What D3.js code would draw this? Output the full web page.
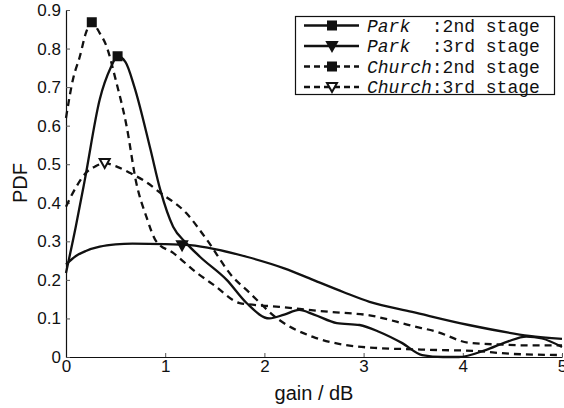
<!DOCTYPE html>
<html>
<head>
<meta charset="utf-8">
<script src="https://cdn.jsdelivr.net/npm/d3@7"></script>
<style>
  body { margin: 0; background: #fff; }
  text { fill: #111; }
</style>
</head>
<body>
<div id="chart"></div>
<script>
// Park, 2nd stage
var park2X = [0, 0.1, 0.19, 0.34, 0.45, 0.52, 0.6, 0.69, 0.85, 0.95, 1.08, 1.21, 1.35, 1.62, 1.82, 2.05, 2.2, 2.35, 2.5, 2.73, 2.96, 3.16, 3.39, 3.59, 3.8, 3.96, 4.23, 4.45, 4.64, 4.8, 5.0];
var park2Y = [0.218, 0.34, 0.46, 0.668, 0.75, 0.78, 0.765, 0.70, 0.54, 0.434, 0.338, 0.296, 0.26, 0.20, 0.14, 0.10, 0.11, 0.122, 0.11, 0.088, 0.083, 0.065, 0.036, 0.005, 0.0, 0.0, 0.018, 0.04, 0.053, 0.048, 0.026];
// Park, 3rd stage
var park3X = [0, 0.1, 0.2, 0.34, 0.5, 0.67, 1.0, 1.25, 1.5, 1.82, 2.2, 2.49, 2.8, 3.06, 3.49, 4.06, 4.67, 5.0];
var park3Y = [0.24, 0.262, 0.275, 0.286, 0.292, 0.294, 0.293, 0.29, 0.28, 0.26, 0.23, 0.20, 0.168, 0.143, 0.117, 0.083, 0.055, 0.047];
// Church, 2nd stage
var church2X = [0, 0.07, 0.14, 0.2, 0.26, 0.34, 0.41, 0.5, 0.61, 0.71, 0.81, 0.91, 1.08, 1.32, 1.5, 1.75, 2.15, 2.66, 3.06, 3.5, 3.73, 4.06, 4.4, 4.7, 5.0];
var church2Y = [0.62, 0.72, 0.78, 0.84, 0.868, 0.84, 0.805, 0.72, 0.60, 0.45, 0.364, 0.30, 0.27, 0.218, 0.185, 0.14, 0.13, 0.117, 0.108, 0.08, 0.066, 0.037, 0.032, 0.03, 0.03];
// Church, 3rd stage
var church3X = [0, 0.1, 0.21, 0.3, 0.39, 0.5, 0.64, 0.8, 0.95, 1.21, 1.42, 1.68, 1.82, 2.15, 2.49, 2.82, 3.16, 3.5, 3.76, 4.1, 4.5, 5.0];
var church3Y = [0.39, 0.44, 0.48, 0.495, 0.503, 0.495, 0.478, 0.455, 0.426, 0.374, 0.304, 0.208, 0.174, 0.096, 0.052, 0.031, 0.023, 0.02, 0.018, 0.016, 0.008, 0.005];

// one marker per curve
var markerX = [0.52, 1.17, 0.26, 0.39];
var markerY = [0.78, 0.29, 0.868, 0.503];

var seriesNames = ["Park", "Park", "Church", "Church"];
var seriesStages = [":2nd stage", ":3rd stage", ":2nd stage", ":3rd stage"];
var xTicks = [0, 1, 2, 3, 4, 5];
var yTicks = [0, 0.1, 0.2, 0.3, 0.4, 0.5, 0.6, 0.7, 0.8, 0.9];

var width = 564, height = 408;

var svg = d3.select("#chart").append("svg")
  .attr("width", width)
  .attr("height", height);

var x = d3.scaleLinear().domain([0, 5]).range([66, 562]);
var y = d3.scaleLinear().domain([0, 0.9]).range([357, 10]);

var series = [
  { xs: park2X, ys: park2Y, dash: null, marker: "square", fill: "#111" },
  { xs: park3X, ys: park3Y, dash: null, marker: "triangle", fill: "#111" },
  { xs: church2X, ys: church2Y, dash: "7,5", marker: "square", fill: "#111" },
  { xs: church3X, ys: church3Y, dash: "7,5", marker: "triangle", fill: "#fff" }
];
series.forEach(function (s, i) {
  s.points = s.xs.map(function (v, j) { return [v, s.ys[j]]; });
  s.mx = markerX[i];
  s.my = markerY[i];
  s.name = seriesNames[i];
  s.stage = seriesStages[i];
});

// axes
var xAxis = d3.axisBottom(x).tickValues(xTicks).tickFormat(d3.format("d"))
  .tickSizeInner(-4).tickSizeOuter(0).tickPadding(3);
var yAxis = d3.axisLeft(y).tickValues(yTicks).tickFormat(function (d) { return d === 0 ? "0" : d3.format(".1f")(d); })
  .tickSizeInner(-4).tickSizeOuter(0).tickPadding(5);

var gx = svg.append("g").attr("transform", "translate(0," + y(0) + ")").call(xAxis);
var gy = svg.append("g").attr("transform", "translate(" + x(0) + ",0)").call(yAxis);
[gx, gy].forEach(function (g) {
  g.selectAll("text").style("font-family", "Liberation Sans, Arial, sans-serif").style("font-size", "17px").attr("fill", "#111");
  g.selectAll("line").attr("stroke", "#555");
  g.select(".domain").attr("stroke", "#111").attr("stroke-width", 1.2);
});

svg.append("text")
  .attr("x", 314).attr("y", 400)
  .attr("text-anchor", "middle")
  .style("font-family", "Liberation Sans, Arial, sans-serif")
  .style("font-size", "20px")
  .text("gain / dB");

svg.append("text")
  .attr("transform", "translate(27,183) rotate(-90)")
  .attr("text-anchor", "middle")
  .style("font-family", "Liberation Sans, Arial, sans-serif")
  .style("font-size", "20px")
  .text("PDF");

// curves
var line = d3.line()
  .x(function (d) { return x(d[0]); })
  .y(function (d) { return y(d[1]); })
  .curve(d3.curveMonotoneX);

svg.append("g").selectAll("path")
  .data(series)
  .join("path")
  .attr("d", function (d) { return line(d.points); })
  .attr("fill", "none")
  .attr("stroke", "#111")
  .attr("stroke-width", 2.3)
  .attr("stroke-dasharray", function (d) { return d.dash; });

function markerPath(kind) {
  if (kind === "square") return "M-4,-4H4V4H-4Z";
  return "M-5,-4L5,-4L0,5Z";
}

svg.append("g").selectAll("path")
  .data(series)
  .join("path")
  .attr("transform", function (d) { return "translate(" + x(d.mx) + "," + y(d.my) + ")"; })
  .attr("d", function (d) { return markerPath(d.marker); })
  .attr("fill", function (d) { return d.fill; })
  .attr("stroke", "#111")
  .attr("stroke-width", 2);

// legend
var legend = svg.append("g");
legend.append("rect")
  .attr("x", 295.5).attr("y", 16.5)
  .attr("width", 259).attr("height", 78)
  .attr("fill", "#fff")
  .attr("stroke", "#111")
  .attr("stroke-width", 1.2);

var rows = legend.selectAll("g.row")
  .data(series)
  .join("g")
  .attr("class", "row")
  .attr("transform", function (d, i) { return "translate(0," + (25.5 + i * 20.5) + ")"; });

rows.append("line")
  .attr("x1", 304).attr("x2", 359)
  .attr("stroke", "#111")
  .attr("stroke-width", 2.3)
  .attr("stroke-dasharray", function (d) { return d.dash ? "6,4" : null; });

rows.append("path")
  .attr("transform", "translate(332,0)")
  .attr("d", function (d) { return markerPath(d.marker); })
  .attr("fill", function (d) { return d.fill; })
  .attr("stroke", "#111")
  .attr("stroke-width", 2);

var label = rows.append("text")
  .attr("x", 367).attr("y", 6)
  .attr("xml:space", "preserve")
  .style("white-space", "pre")
  .style("font-family", "Liberation Mono, Courier New, monospace")
  .style("font-size", "18px");
label.append("tspan")
  .style("font-style", "italic")
  .text(function (d) { return (d.name + "      ").slice(0, 6); });
label.append("tspan")
  .text(function (d) { return d.stage; });
</script>
</body>
</html>
